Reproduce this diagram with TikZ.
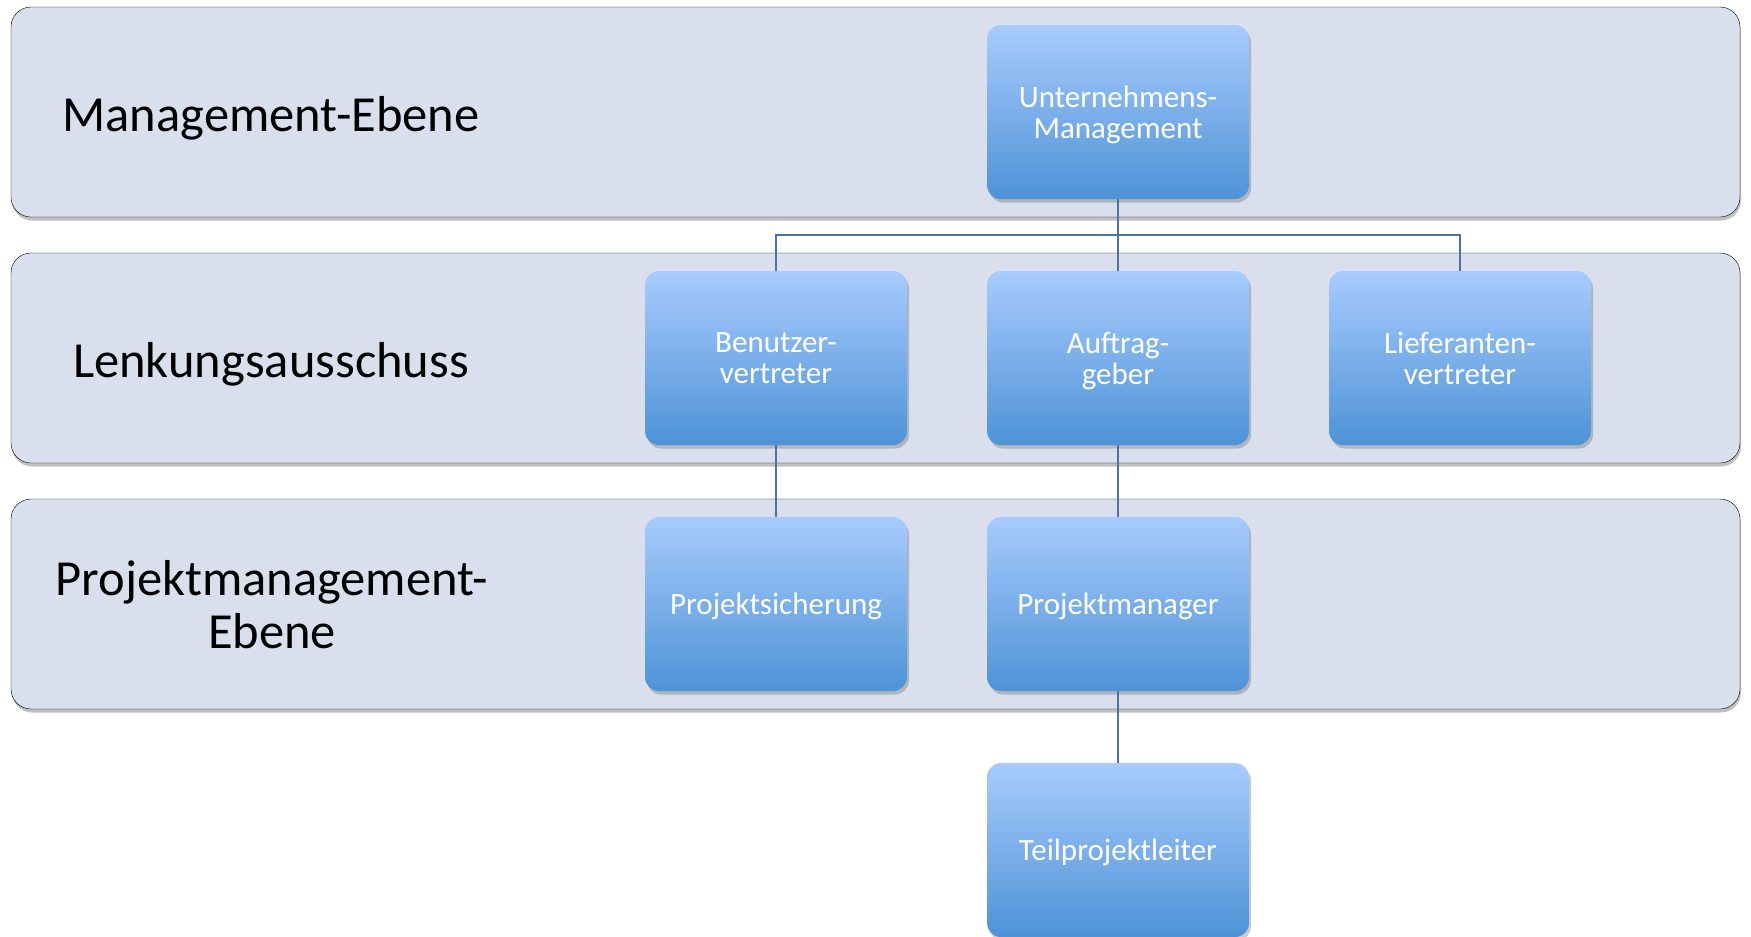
\documentclass[tikz,border=0pt]{standalone}
\usepackage{fontspec}
\setmainfont{Carlito}
\usetikzlibrary{shadows}

\definecolor{bandfill}{HTML}{D9DFEC}
\definecolor{boxtop}{HTML}{A8CBFD}
\definecolor{boxbottom}{HTML}{4E93D7}
\definecolor{linkcol}{HTML}{4A74A8}

\begin{document}
\begin{tikzpicture}[x=1pt,y=-1pt,
  band/.style={fill=bandfill, rounded corners=20pt,
    drop shadow={shadow xshift=1pt, shadow yshift=-3.5pt, opacity=0.45, fill=black!55}},
  bandlabel/.style={font=\fontsize{50.5}{53}\selectfont, align=center, text=black,
    inner sep=0pt, text depth=0pt},
  role/.style={rounded corners=14pt, top color=boxtop, bottom color=boxbottom,
    minimum width=262pt, minimum height=174pt, inner sep=0pt, text depth=0pt,
    text=white, align=center, font=\fontsize{31}{31}\selectfont,
    drop shadow={shadow xshift=2pt, shadow yshift=-3.5pt, opacity=0.35, fill=black!60}},
  link/.style={draw=linkcol, line width=2pt}
]
\useasboundingbox (0,0) rectangle (1751,937);

% organisational levels
\draw[band] (11,7) rectangle (1740,217);
\draw[band] (11,253) rectangle (1740,463);
\draw[band] (11,499) rectangle (1740,709);

\node[bandlabel] (lvl1) at (271,114) {Management-Ebene};
\node[bandlabel] (lvl2) at (271,360) {Lenkungsausschuss};
\node[bandlabel] (lvl3) at (272,604) {Projektmanagement-\\Ebene};

% roles
\node[role] (um) at (1118,112) {Unternehmens-\\Management};
\node[role] (bv) at (776,358) {Benutzer-\\vertreter};
\node[role] (ag) at (1118,358) {Auftrag-\\geber};
\node[role] (lv) at (1460,358) {Lieferanten-\\vertreter};
\node[role] (ps) at (776,604) {Projektsicherung};
\node[role] (pm) at (1118,604) {Projektmanager};
\node[role] (tl) at (1118,850) {Teilprojektleiter};

% reporting lines
\coordinate (bus) at (1118,235);
\draw[link] (um.south) -- (ag.north);
\draw[link] (bv.north) |- (bus) -| (lv.north);
\draw[link] (bv.south) -- (ps.north);
\draw[link] (ag.south) -- (pm.north);
\draw[link] (pm.south) -- (tl.north);
\end{tikzpicture}
\end{document}
